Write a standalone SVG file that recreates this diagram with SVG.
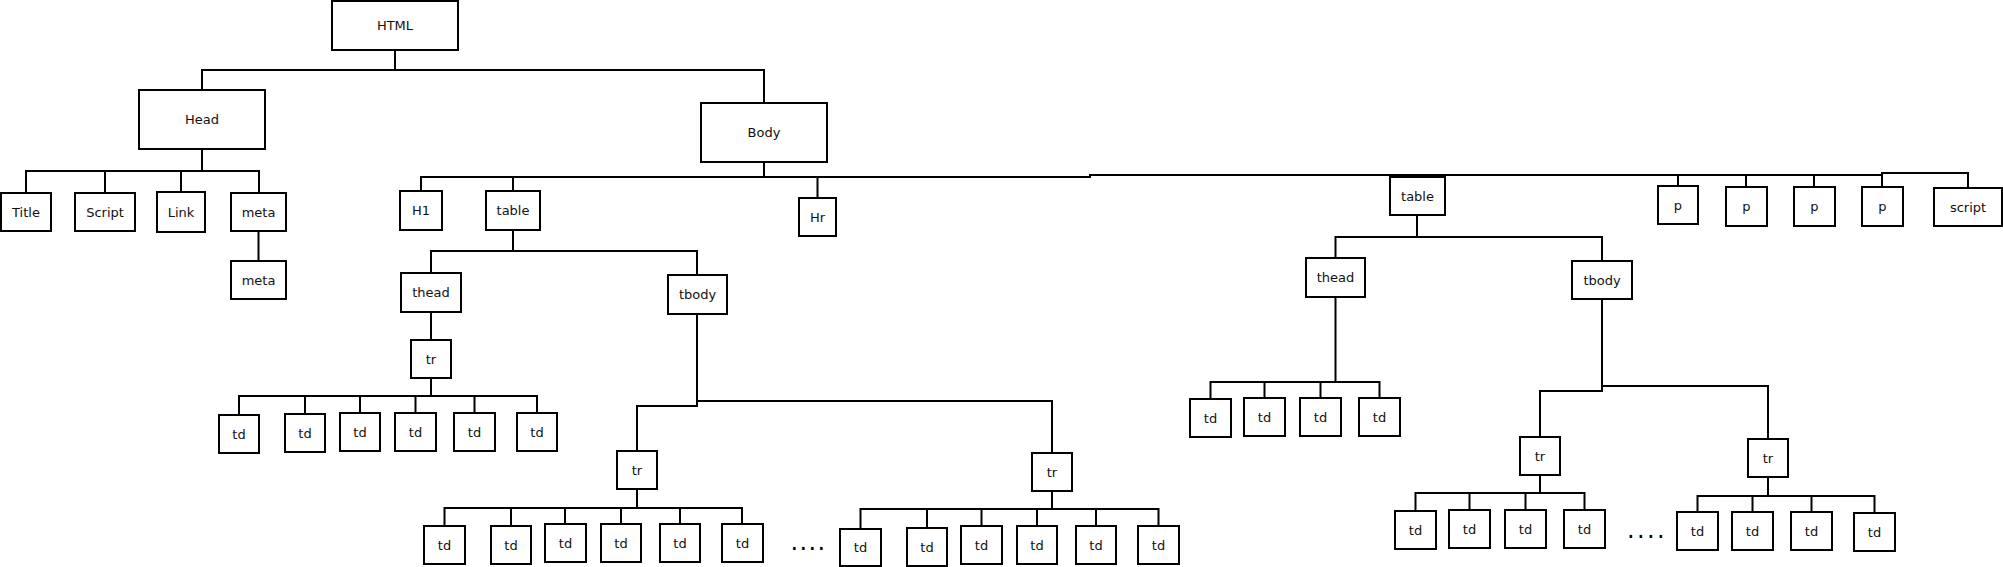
<svg xmlns="http://www.w3.org/2000/svg" width="2003" height="567" viewBox="0 0 2003 567">
<style>
.n rect{fill:#fff;stroke:#000;stroke-width:2}
.n text{font-family:"DejaVu Sans",sans-serif;font-size:13px;text-anchor:middle;fill:#111}
#connectors path{fill:none;stroke:#000;stroke-width:2}
.dots{font-family:"DejaVu Sans",sans-serif;font-size:24px;fill:#000}
</style>
<rect width="2003" height="567" fill="#fff"/>
<g id="connectors">
<path d="M395,50V70M202,90V70H764V103"/>
<path d="M202,149V171M26,193V171H259V193M105,171V193M181,171V192"/>
<path d="M258.5,231V261"/>
<path d="M764,162V177M421,191V177H1090V175H1882V173H1968V188M513,177V191M817.5,177V198M1417,175V177M1678,175V186M1746,175V187M1814,175V187M1882,173V187"/>
<path d="M513,230V251M431,273V251H697V275"/>
<path d="M431,312V340"/>
<path d="M431,378V396M239,415V396H537V413M305,396V414M360,396V413M415.5,396V413M474.5,396V413"/>
<path d="M697,314V406H637V451M697,401H1052V453"/>
<path d="M637,489V508M444.5,526V508H742V524M511,508V526M565,508V524M621,508V524M680,508V524"/>
<path d="M1052,491V509M860.5,529V509H1158.5V526M927,509V528M981.5,509V526M1037,509V526M1096,509V526"/>
<path d="M1417,215V237M1335.5,258V237H1602V261"/>
<path d="M1335.5,297V382M1210.5,399V382H1379.5V398M1264.5,382V398M1320.5,382V398"/>
<path d="M1602,299V391H1540V437M1602,386H1768V439"/>
<path d="M1540,475V493M1415.5,511V493H1584.5V510M1469.5,493V510M1525.5,493V510"/>
<path d="M1768,477V496M1697.5,512V496H1874.5V513M1752.5,496V512M1811.5,496V512"/>
</g>
<g id="html" class="n"><rect x="332" y="1" width="126" height="49"/><text x="395" y="30">HTML</text></g>
<g id="head" class="n"><rect x="139" y="90" width="126" height="59"/><text x="202" y="124">Head</text></g>
<g id="body" class="n"><rect x="701" y="103" width="126" height="59"/><text x="764" y="137">Body</text></g>
<g id="title" class="n"><rect x="1" y="193" width="50" height="38"/><text x="26" y="216.5">Title</text></g>
<g id="script-head" class="n"><rect x="75" y="193" width="60" height="38"/><text x="105" y="216.5">Script</text></g>
<g id="link" class="n"><rect x="157" y="192" width="48" height="40"/><text x="181" y="216.5">Link</text></g>
<g id="meta1" class="n"><rect x="231" y="193" width="55" height="38"/><text x="258.5" y="216.5">meta</text></g>
<g id="meta2" class="n"><rect x="231" y="261" width="55" height="38"/><text x="258.5" y="284.5">meta</text></g>
<g id="h1" class="n"><rect x="400" y="191" width="42" height="39"/><text x="421" y="215">H1</text></g>
<g id="table1" class="n"><rect x="486" y="191" width="54" height="39"/><text x="513" y="215">table</text></g>
<g id="hr" class="n"><rect x="799" y="198" width="37" height="38"/><text x="817.5" y="221.5">Hr</text></g>
<g id="table2" class="n"><rect x="1390" y="177" width="55" height="38"/><text x="1417.5" y="200.5">table</text></g>
<g id="p1" class="n"><rect x="1658" y="186" width="40" height="38"/><text x="1678" y="209.5">p</text></g>
<g id="p2" class="n"><rect x="1726" y="187" width="41" height="39"/><text x="1746.5" y="211">p</text></g>
<g id="p3" class="n"><rect x="1794" y="187" width="41" height="39"/><text x="1814.5" y="211">p</text></g>
<g id="p4" class="n"><rect x="1862" y="187" width="41" height="39"/><text x="1882.5" y="211">p</text></g>
<g id="script-body" class="n"><rect x="1934" y="188" width="68" height="38"/><text x="1968" y="211.5">script</text></g>
<g id="thead1" class="n"><rect x="401" y="273" width="60" height="39"/><text x="431" y="297">thead</text></g>
<g id="tbody1" class="n"><rect x="668" y="275" width="59" height="39"/><text x="697.5" y="299">tbody</text></g>
<g id="tr-a" class="n"><rect x="411" y="340" width="40" height="38"/><text x="431" y="363.5">tr</text></g>
<g id="td-a1" class="n"><rect x="219" y="415" width="40" height="38"/><text x="239" y="438.5">td</text></g>
<g id="td-a2" class="n"><rect x="285" y="414" width="40" height="38"/><text x="305" y="437.5">td</text></g>
<g id="td-a3" class="n"><rect x="340" y="413" width="40" height="38"/><text x="360" y="436.5">td</text></g>
<g id="td-a4" class="n"><rect x="395" y="413" width="41" height="38"/><text x="415.5" y="436.5">td</text></g>
<g id="td-a5" class="n"><rect x="454" y="413" width="41" height="38"/><text x="474.5" y="436.5">td</text></g>
<g id="td-a6" class="n"><rect x="517" y="413" width="40" height="38"/><text x="537" y="436.5">td</text></g>
<g id="tr-b" class="n"><rect x="617" y="451" width="40" height="38"/><text x="637" y="474.5">tr</text></g>
<g id="td-b1" class="n"><rect x="424" y="526" width="41" height="38"/><text x="444.5" y="549.5">td</text></g>
<g id="td-b2" class="n"><rect x="491" y="526" width="40" height="38"/><text x="511" y="549.5">td</text></g>
<g id="td-b3" class="n"><rect x="545" y="524" width="41" height="38"/><text x="565.5" y="547.5">td</text></g>
<g id="td-b4" class="n"><rect x="601" y="524" width="40" height="38"/><text x="621" y="547.5">td</text></g>
<g id="td-b5" class="n"><rect x="660" y="524" width="40" height="38"/><text x="680" y="547.5">td</text></g>
<g id="td-b6" class="n"><rect x="722" y="524" width="41" height="38"/><text x="742.5" y="547.5">td</text></g>
<text class="dots" x="790.5" y="550" letter-spacing="1.4">....</text>
<g id="tr-c" class="n"><rect x="1032" y="453" width="40" height="38"/><text x="1052" y="476.5">tr</text></g>
<g id="td-c1" class="n"><rect x="840" y="529" width="41" height="37"/><text x="860.5" y="552">td</text></g>
<g id="td-c2" class="n"><rect x="907" y="528" width="40" height="38"/><text x="927" y="551.5">td</text></g>
<g id="td-c3" class="n"><rect x="961" y="526" width="41" height="38"/><text x="981.5" y="549.5">td</text></g>
<g id="td-c4" class="n"><rect x="1017" y="526" width="40" height="38"/><text x="1037" y="549.5">td</text></g>
<g id="td-c5" class="n"><rect x="1076" y="526" width="40" height="38"/><text x="1096" y="549.5">td</text></g>
<g id="td-c6" class="n"><rect x="1138" y="526" width="41" height="38"/><text x="1158.5" y="549.5">td</text></g>
<g id="thead2" class="n"><rect x="1306" y="258" width="59" height="39"/><text x="1335.5" y="282">thead</text></g>
<g id="tbody2" class="n"><rect x="1572" y="261" width="60" height="38"/><text x="1602" y="284.5">tbody</text></g>
<g id="td-d1" class="n"><rect x="1190" y="399" width="41" height="38"/><text x="1210.5" y="422.5">td</text></g>
<g id="td-d2" class="n"><rect x="1244" y="398" width="41" height="38"/><text x="1264.5" y="421.5">td</text></g>
<g id="td-d3" class="n"><rect x="1300" y="398" width="41" height="38"/><text x="1320.5" y="421.5">td</text></g>
<g id="td-d4" class="n"><rect x="1359" y="398" width="41" height="38"/><text x="1379.5" y="421.5">td</text></g>
<g id="tr-e" class="n"><rect x="1520" y="437" width="40" height="38"/><text x="1540" y="460.5">tr</text></g>
<g id="td-e1" class="n"><rect x="1395" y="511" width="41" height="38"/><text x="1415.5" y="534.5">td</text></g>
<g id="td-e2" class="n"><rect x="1449" y="510" width="41" height="38"/><text x="1469.5" y="533.5">td</text></g>
<g id="td-e3" class="n"><rect x="1505" y="510" width="41" height="38"/><text x="1525.5" y="533.5">td</text></g>
<g id="td-e4" class="n"><rect x="1564" y="510" width="41" height="38"/><text x="1584.5" y="533.5">td</text></g>
<text class="dots" x="1627" y="537.5" letter-spacing="2.4">....</text>
<g id="tr-f" class="n"><rect x="1748" y="439" width="40" height="38"/><text x="1768" y="462.5">tr</text></g>
<g id="td-f1" class="n"><rect x="1677" y="512" width="41" height="38"/><text x="1697.5" y="535.5">td</text></g>
<g id="td-f2" class="n"><rect x="1732" y="512" width="41" height="38"/><text x="1752.5" y="535.5">td</text></g>
<g id="td-f3" class="n"><rect x="1791" y="512" width="41" height="38"/><text x="1811.5" y="535.5">td</text></g>
<g id="td-f4" class="n"><rect x="1854" y="513" width="41" height="38"/><text x="1874.5" y="536.5">td</text></g>
</svg>
